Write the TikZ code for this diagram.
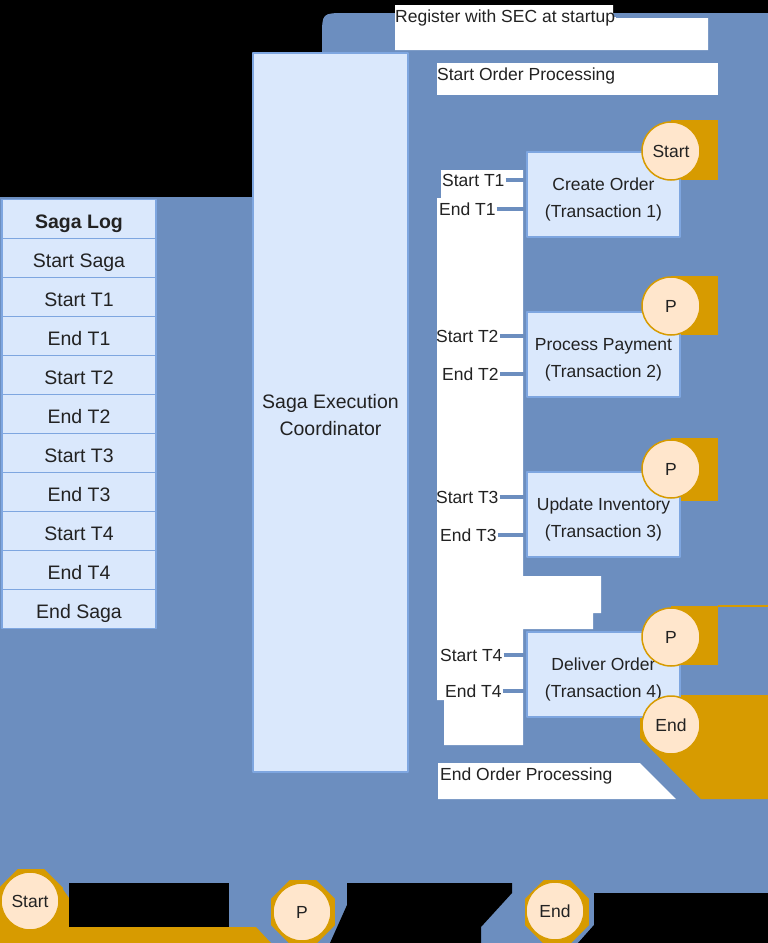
\documentclass[tikz,border=0pt]{standalone}
\usepackage{fontspec}
\setmainfont{Liberation Sans}
\usetikzlibrary{shapes.geometric}
\definecolor{sagablue}{HTML}{6C8EBF}
\definecolor{paleblue}{HTML}{DAE8FC}
\definecolor{edgeblue}{HTML}{7EA6E0}
\definecolor{amber}{HTML}{D79B00}
\definecolor{cream}{HTML}{FFE6CC}
\definecolor{ink}{HTML}{222222}

\begin{document}
\begin{tikzpicture}[x=1pt,y=-1pt,text=ink,line join=round,
  cell/.style={draw=edgeblue,fill=paleblue,line width=1.2pt,minimum width=154pt,
    minimum height=39pt,inner sep=0pt,text height=18pt,text depth=0pt,
    font=\fontsize{19.5}{23}\selectfont},
  txbox/.style={draw=edgeblue,fill=paleblue,line width=1.2pt,minimum width=153pt,
    minimum height=85pt,inner sep=0pt,align=center,text height=50pt,text depth=4pt,
    font=\fontsize{17.5}{27}\selectfont},
  badge/.style={circle,draw=amber,line width=1.5pt,fill=cream,minimum size=58pt,
    inner sep=0pt,font=\fontsize{17.5}{20}\selectfont},
  keyring/.style={regular polygon,regular polygon sides=8,fill=amber,
    minimum size=69pt,inner sep=0pt},
  tag/.style={anchor=west,inner sep=1pt,font=\fontsize{17.5}{20}\selectfont},
  wire/.style={sagablue,line width=3.5pt}]
  \useasboundingbox (0,0) rectangle (768,943);
  \fill[black] (0,0) rectangle (768,943);

  % Background band.
  \fill[sagablue] (0,197) -- (252,197) -- (252,53) -- (322,53) -- (322,37)
    .. controls (322,13) .. (346,13) -- (768,13) -- (768,943) -- (0,943) -- cycle;

  % Saga log table.
  \node[cell,font=\fontsize{19.5}{23}\selectfont\bfseries] (log0) at (79,219) {Saga Log};
  \foreach \txt [count=\i] in {Start Saga,Start T1,End T1,Start T2,End T2,
      Start T3,End T3,Start T4,End T4,End Saga}
    \node[cell] (log\i) at (79,{219+39*\i}) {\txt};

  % Coordinator.
  \node[draw=edgeblue,fill=paleblue,line width=1.2pt,minimum width=155pt,
        minimum height=719pt,align=center,text height=46pt,text depth=0pt,
        font=\fontsize{19.5}{27}\selectfont]
    (sec) at (330.5,412.5) {Saga Execution\\Coordinator};

  % White label areas.
  \fill[white] (395,5) -- (613,5) -- (613,17) -- (708,17) -- (708,50) -- (395,50) -- cycle;
  \fill[white] (437,63) rectangle (718,95);
  \fill[white] (441,170) -- (523,170) -- (523,576) -- (601,576) -- (601,613)
    -- (593,613) -- (593,629) -- (523,629) -- (523,745) -- (444,745)
    -- (444,700) -- (437,700) -- (437,198) -- (441,198) -- cycle;
  \fill[white] (438,763) -- (640,763) -- (676,799) -- (438,799) -- cycle;

  \node[tag] (reg) at (394,18) {Register with SEC at startup};
  \coordinate (regend) at (768,16);
  \draw[wire] (reg.east |- regend) -- (regend);
  \node[tag] (sop) at (436,76) {Start Order Processing};
  \node[tag] (eop) at (439,776) {End Order Processing};

  % Orange backing behind the markers.
  \fill[amber] (671,120) rectangle (718,180);
  \fill[amber] (671,276) rectangle (718,335);
  \fill[amber] (671,438) rectangle (718,501);
  \fill[amber] (671,606) rectangle (718,665);
  \fill[amber] (718,605) rectangle (768,607);
  \fill[amber] (640,717) -- (640,738) -- (701,799) -- (768,799) -- (768,695)
    -- (680,695) -- (680,717) -- cycle;

  % Transactions.
  \foreach \name/\y [count=\i] in {Create Order/194.5,Process Payment/354.5,
      Update Inventory/514.5,Deliver Order/674.5}
    \node[txbox] (tx\i) at (603.5,\y) {\name\\(Transaction \i)};

  \node[tag] (s1) at (441,180) {Start T1};
  \node[tag] (e1) at (438,209) {End T1};
  \node[tag] (s2) at (435,336) {Start T2};
  \node[tag] (e2) at (441,374) {End T2};
  \node[tag] (s3) at (435,497) {Start T3};
  \node[tag] (e3) at (439,535) {End T3};
  \node[tag] (s4) at (439,655) {Start T4};
  \node[tag] (e4) at (444,691) {End T4};
  \foreach \k in {1,...,4} {
    \draw[wire] (s\k.east) -- (s\k.east -| tx\k.west);
    \draw[wire] (e\k.east) -- (e\k.east -| tx\k.west);
  }

  \node[badge] (bstart) at (671,151) {Start};
  \node[badge] (bp1) at (671,306) {P};
  \node[badge] (bp2) at (671,469) {P};
  \node[badge] (bp3) at (671,637) {P};
  \node[badge] (bend) at (671,725) {End};

  % Legend.
  \fill[amber] (0,893) -- (62,888) -- (69,898) -- (69,927) -- (256,927)
    -- (271,943) -- (0,943) -- cycle;
  \fill[black] (69,883) rectangle (229,927);
  \fill[black] (347,883) -- (512,883) -- (512,893) -- (481,927) -- (481,943)
    -- (330,943) -- (347,905) -- cycle;
  \fill[black] (594,893) -- (768,893) -- (768,943) -- (578,943) -- (594,925) -- cycle;
  \node[keyring] (kr1) at (31,901) {};
  \node[badge] (kstart) at (30,901) {Start};
  \node[keyring] (kr2) at (303,912) {};
  \node[badge] (kp) at (302,912) {P};
  \node[keyring] (kr3) at (557,912) {};
  \node[badge] (kend) at (555,911) {End};
\end{tikzpicture}
\end{document}
